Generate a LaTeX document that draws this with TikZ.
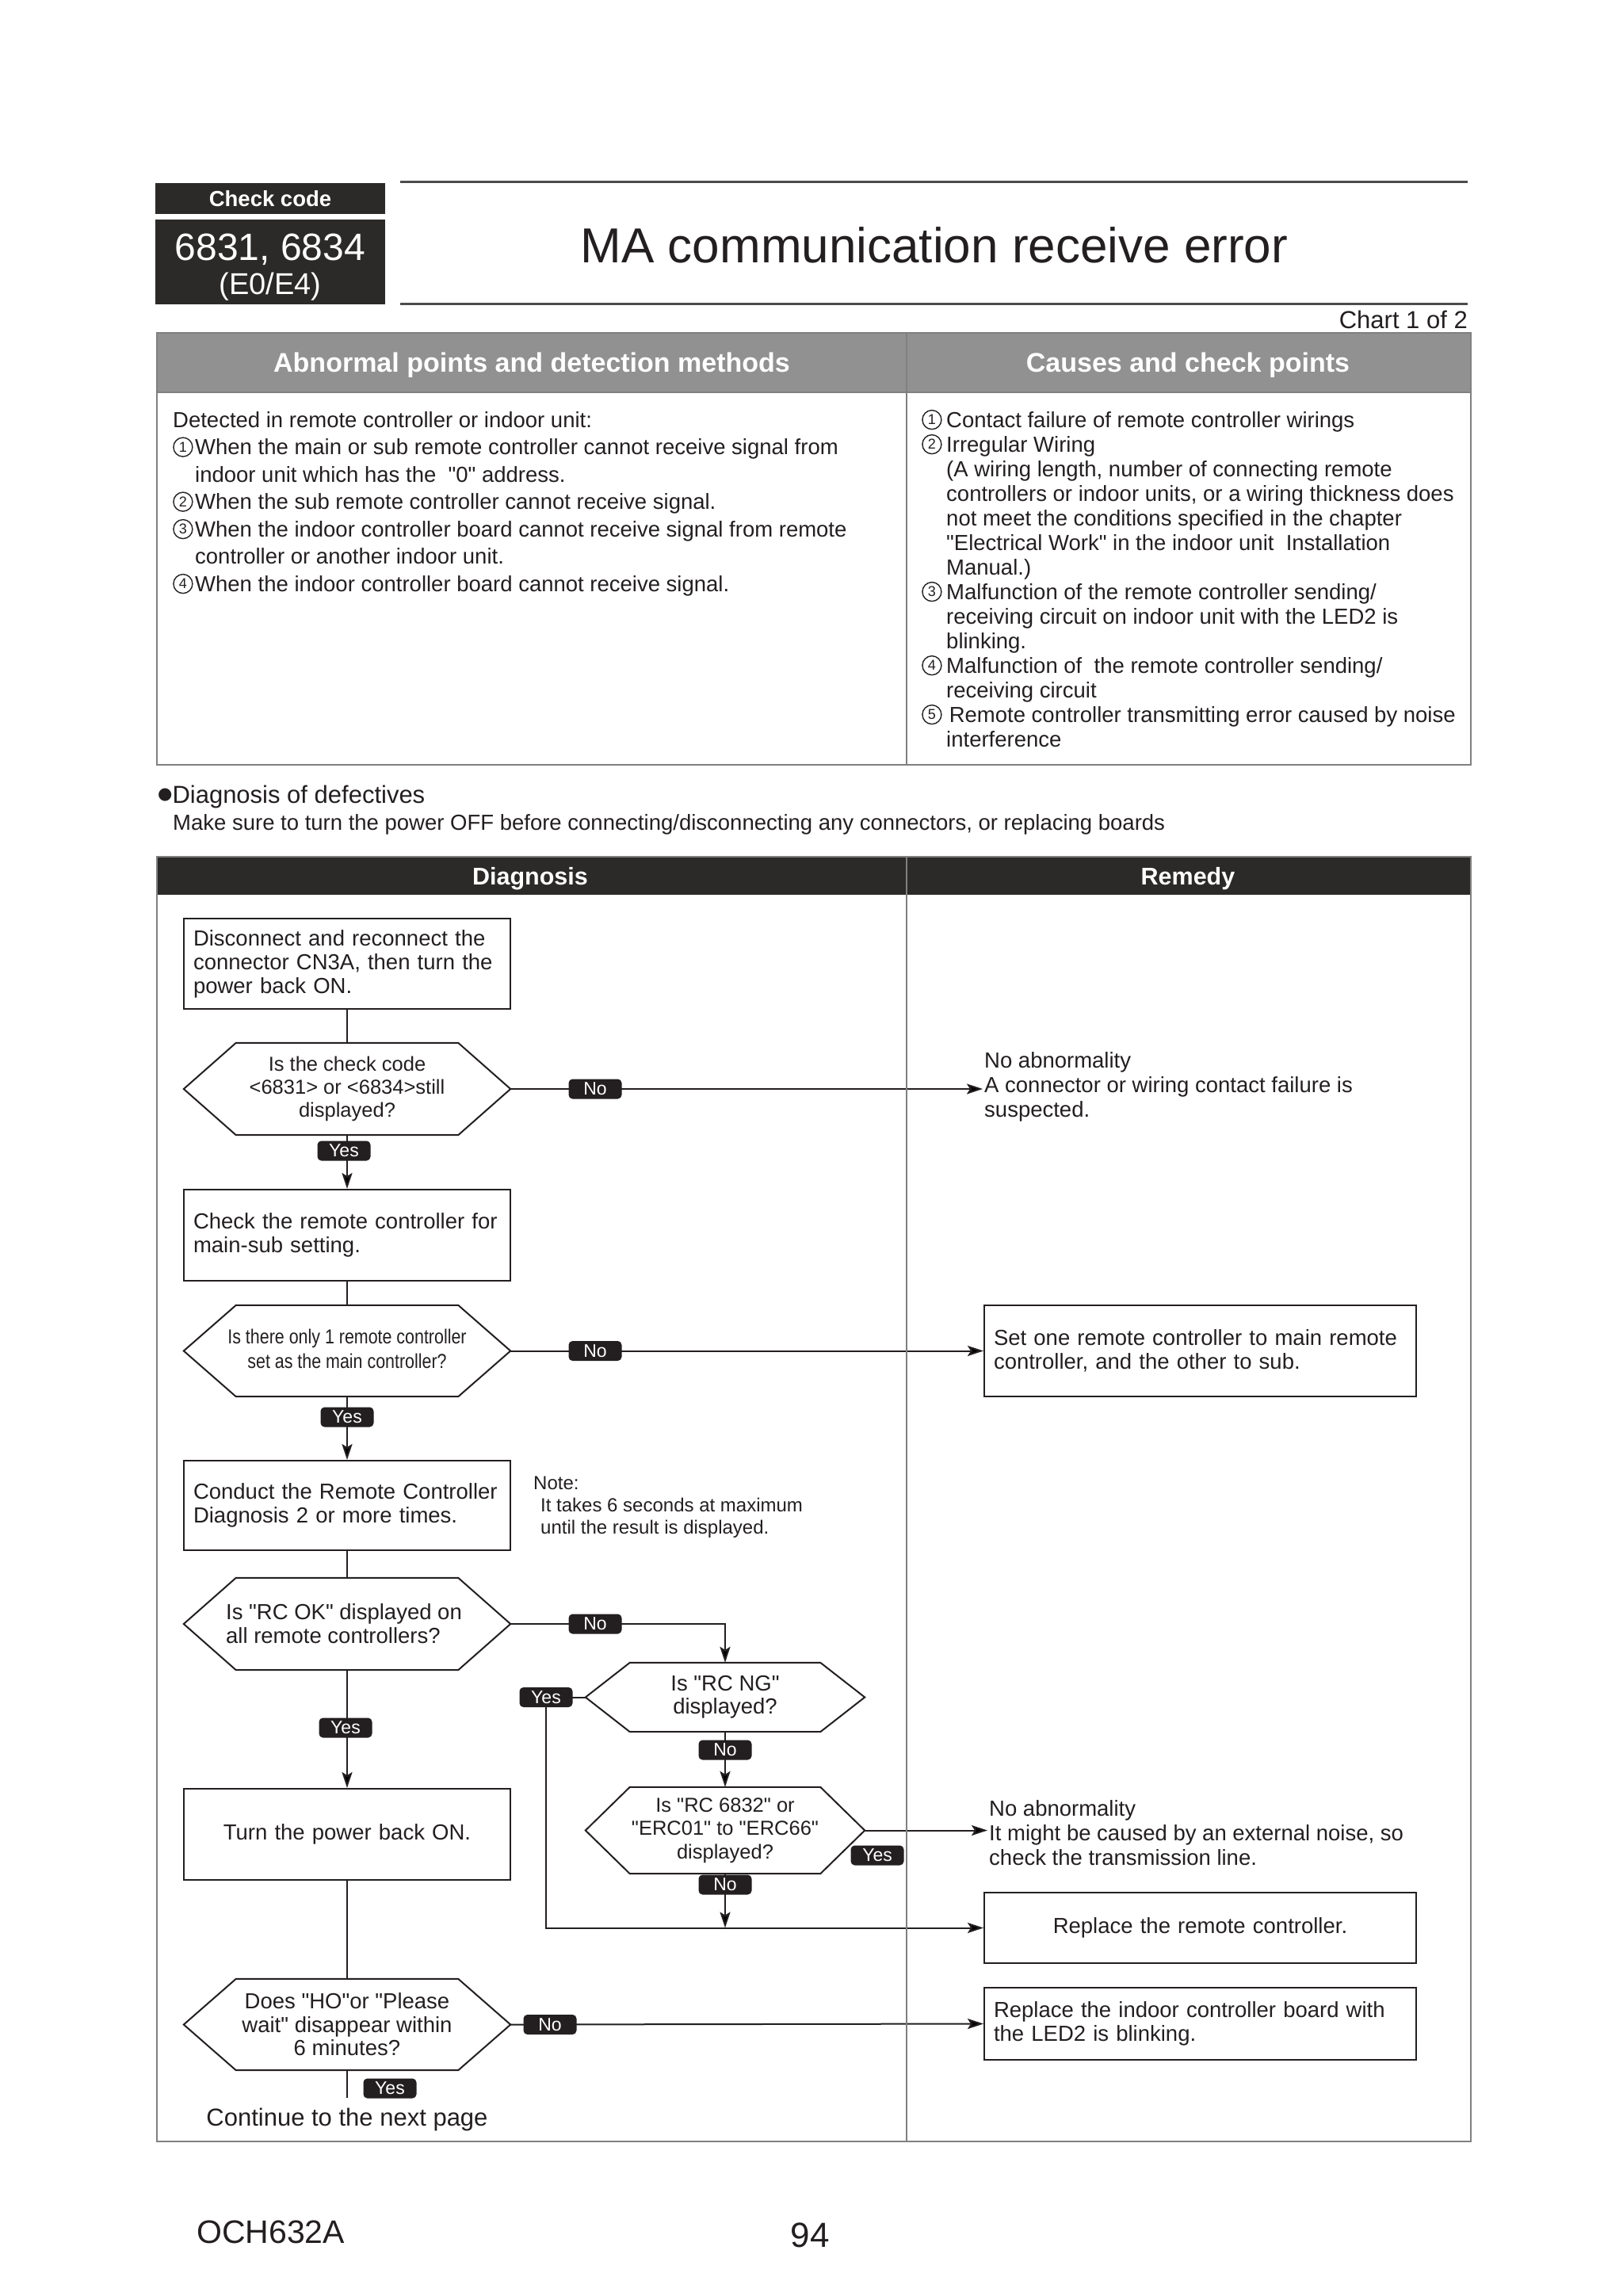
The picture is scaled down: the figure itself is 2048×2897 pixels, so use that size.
\documentclass[tikz,border=0pt]{standalone}
\usepackage{fontspec}
\usepackage{graphicx}
\setmainfont{Liberation Sans}[Ligatures=TeXOff]
\newfontfamily\dejavu{DejaVu Sans}
\usetikzlibrary{arrows.meta,calc}
\definecolor{ink}{HTML}{231F20}
\definecolor{hdrgray}{HTML}{919191}
\definecolor{hdrdark}{HTML}{2B2A29}
\definecolor{tblc}{HTML}{808080}
\newcommand\fsz[2]{\fontsize{#1}{#2}\selectfont}
\newcommand\cnum[2]{\makebox[#1][l]{\smash{\raisebox{9.5pt}{\tikz[x=1pt,y=1pt,baseline=(cn.center)]\node[circle, draw=ink, line width=1.4pt, inner sep=0pt, minimum size=24pt, font=\fsz{18}{18}, text=ink] (cn) at (0,0) {#2};}}}}
\newcommand\hexdraw[2]{\draw[hexline] (#1.west) -- ([xshift=#2]#1.north west) -- ([xshift=-#2]#1.north east) -- (#1.east) -- ([xshift=-#2]#1.south east) -- ([xshift=#2]#1.south west) -- cycle;}
\pgfdeclarelayer{back}
\pgfdeclarelayer{bg}
\pgfsetlayers{back,bg,main}
\tikzset{
  txt/.style={inner sep=0pt, text=ink},
  box/.style={draw=ink, line width=2pt, rectangle, inner xsep=12pt, inner ysep=0pt, text=ink, font=\fsz{27.5}{30}, align=left},
  hexn/.style={inner sep=0pt, text=ink, align=center, minimum width=412pt},
  hexline/.style={draw=ink, line width=2pt, line join=miter},
  flow/.style={draw=ink, line width=2pt},
  arr/.style={flow, -{Stealth[length=20pt,width=13pt,inset=4pt]}},
  lbl/.style={fill=ink, text=white, rounded corners=5pt, minimum width=67pt, minimum height=25pt, inner sep=0pt, font=\fsz{23}{25}},
  blk/.style={fill=hdrdark, inner sep=0pt},
  tline/.style={draw=tblc, line width=2.5pt},
}
\begin{document}
\begin{tikzpicture}[x=1pt,y=-1pt]
\begin{pgfonlayer}{back}
\fill[white] (0,0) rectangle (2048,2897);
\end{pgfonlayer}
\useasboundingbox (0,0) rectangle (2048,2897);

% ---------- header ----------
\node[blk, minimum width=290pt, minimum height=39pt] (cc) at (341,250.5) {};
\node[txt, text=white, font=\bfseries\fsz{27.5}{30}, anchor=base] (cct) at (341,260) {Check code};
\node[blk, minimum width=290pt, minimum height=107pt] (code) at (341,330.5) {};
\node[txt, text=white, font=\fsz{48}{50}, anchor=base] (codea) at (341,328) {6831, 6834};
\node[txt, text=white, font=\fsz{38}{40}, anchor=base] (codeb) at (341,371) {(E0/E4)};
\draw[line width=3pt, draw=black!70] (505,229) -- (1852,229);
\draw[line width=3pt, draw=black!70] (505,383) -- (1852,383);
\node[txt, font=\fsz{62}{68}, anchor=base] (title) at (1179,331) {MA communication receive error};
\node[txt, font=\fsz{31}{34}, anchor=base east] (chart) at (1852,414) {Chart 1 of 2};

% ---------- table 1 ----------
\fill[hdrgray] (198,420) rectangle (1856,495);
\draw[tline] (198,495) -- (1856,495);
\draw[tline] (1144,420) -- (1144,965);
\draw[tline] (198,420) rectangle (1856,965);
\node[txt, text=white, font=\bfseries\fsz{34}{36}, anchor=base] (th1) at (671,469) {Abnormal points and detection methods};
\node[txt, text=white, font=\bfseries\fsz{34}{36}, anchor=base] (th2) at (1499,469) {Causes and check points};

\node[txt, anchor=north west, align=left, font=\fsz{27.5}{34.5}] (abn) at (218,519) {Detected in remote controller or indoor unit:\\
\cnum{28pt}{1}When the main or sub remote controller cannot receive signal from\\
\hspace*{28pt}indoor unit which has the\ \ "0" address.\\
\cnum{28pt}{2}When the sub remote controller cannot receive signal.\\
\cnum{28pt}{3}When the indoor controller board cannot receive signal from remote\\
\hspace*{28pt}controller or another indoor unit.\\
\cnum{28pt}{4}When the indoor controller board cannot receive signal.};

\node[txt, anchor=north west, align=left, font=\fsz{27.5}{31}] (cau) at (1163,519) {\cnum{31pt}{1}Contact failure of remote controller wirings\\
\cnum{31pt}{2}Irregular Wiring\\
\hspace*{31pt}(A wiring length, number of connecting remote\\
\hspace*{31pt}controllers or indoor units, or a wiring thickness does\\
\hspace*{31pt}not meet the conditions specified in the chapter\\
\hspace*{31pt}"Electrical Work" in the indoor unit\ \ Installation\\
\hspace*{31pt}Manual.)\\
\cnum{31pt}{3}Malfunction of the remote controller sending/\\
\hspace*{31pt}receiving circuit on indoor unit with the LED2 is\\
\hspace*{31pt}blinking.\\
\cnum{31pt}{4}Malfunction of\ \ the remote controller sending/\\
\hspace*{31pt}receiving circuit\\
\cnum{27pt}{5} Remote controller transmitting error caused by noise\\
\hspace*{31pt}interference};

% ---------- diagnosis heading ----------
\node[txt, anchor=base west, font=\fsz{31}{34}] (diag) at (199,1013) {\raisebox{5pt}{\dejavu\fsz{21}{21}●}Diagnosis of defectives};
\node[txt, anchor=base west, font=\fsz{27.5}{30}] (warn) at (218,1047) {Make sure to turn the power OFF before connecting/disconnecting any connectors, or replacing boards};

% ---------- table 2 ----------
\fill[hdrdark] (198,1081) rectangle (1856,1129);
\draw[tline] (1144,1081) -- (1144,2702);
\draw[tline] (198,1081) rectangle (1856,2702);
\node[txt, text=white, font=\bfseries\fsz{30.5}{33}, anchor=base] (dh) at (669,1116) {Diagnosis};
\node[txt, text=white, font=\bfseries\fsz{30.5}{33}, anchor=base] (rh) at (1499,1116) {Remedy};

% ---------- flowchart nodes ----------
\node[box, text width=388pt, minimum height=114pt] (b1) at (438,1216) {Disconnect and reconnect the\\connector CN3A, then turn the\\power back ON.};
\node[hexn, minimum height=116pt, font=\fsz{25.5}{28.7}] (h1) at (438,1374) {Is the check code\\<6831> or <6834>still\\displayed?};
\hexdraw{h1}{66pt}
\node[box, text width=388pt, minimum height=115pt] (b3) at (438,1558.5) {Check the remote controller for\\main-sub setting.};
\node[hexn, minimum height=115pt] (h2) at (438,1704.5) {\scalebox{0.84}[1]{\fsz{25.5}{31}\begin{tabular}{@{}c@{}}Is there only 1 remote controller\\set as the main controller?\end{tabular}}};
\hexdraw{h2}{66pt}
\node[box, text width=388pt, minimum height=113pt] (b5) at (438,1899.5) {Conduct the Remote Controller\\Diagnosis 2 or more times.};
\node[txt, anchor=north west, align=left, font=\fsz{24}{28}] (note) at (673,1863) {Note:\\\hspace*{9pt}It takes 6 seconds at maximum\\\hspace*{9pt}until the result is displayed.};
\node[hexn, minimum height=116pt, align=left, font=\fsz{27.5}{30}] (h3) at (434,2049) {Is "RC OK" displayed on\\all remote controllers?};
\draw[hexline] (h2.west |- h3.west) -- ([xshift=66pt]h2.west |- h3.north) -- ([xshift=-66pt]h2.east |- h3.north) -- (h2.east |- h3.east) -- ([xshift=-66pt]h2.east |- h3.south) -- ([xshift=66pt]h2.west |- h3.south) -- cycle;
\node[hexn, minimum width=352pt, minimum height=87pt, font=\fsz{27.5}{29}] (h4) at (915,2141.5) {Is "RC NG"\\displayed?};
\hexdraw{h4}{56pt}
\node[hexn, minimum width=352pt, minimum height=109pt, font=\fsz{25.5}{29.5}] (h5) at (915,2309.5) {Is "RC 6832" or\\"ERC01" to "ERC66"\\displayed?};
\hexdraw{h5}{56pt}
\node[box, text width=388pt, minimum height=115pt, align=center] (b6) at (438,2314.5) {Turn the power back ON.};
\node[hexn, minimum height=115pt, font=\fsz{27.5}{29.5}] (h6) at (438,2554.5) {Does "HO"or "Please\\wait" disappear within\\6 minutes?};
\hexdraw{h6}{66pt}
\coordinate (yend) at (438,2647);
\node[txt, anchor=base, font=\fsz{31}{34}] (cont) at (438,2682) {Continue to the next page};

% remedy column
\node[txt, anchor=west, align=left, inner xsep=2pt, font=\fsz{27.5}{31}] (r1) at (1240,1371) {No abnormality\\A connector or wiring contact failure is\\suspected.};
\node[box, text width=521pt, minimum height=115pt] (rs) at (1514.5,1704.5) {Set one remote controller to main remote\\controller, and the other to sub.};
\node[txt, anchor=west, align=left, inner xsep=2pt, font=\fsz{27.5}{31}] (r2) at (1246,2313) {No abnormality\\It might be caused by an external noise, so\\check the transmission line.};
\node[box, text width=521pt, minimum height=89pt, align=center] (rp) at (1514.5,2432.5) {Replace the remote controller.};
\node[box, text width=521pt, minimum height=91pt] (rb) at (1514.5,2553.5) {Replace the indoor controller board with\\the LED2 is blinking.};

% labels
\node[lbl] (y1) at (434,1452) {Yes};
\node[lbl] (n1) at (751,1374) {No};
\node[lbl] (n2) at (751,1704.5) {No};
\node[lbl] (y2) at (438,1788) {Yes};
\node[lbl] (n3) at (751,2049) {No};
\node[lbl] (y3) at (436,2180) {Yes};
\node[lbl] (y4) at (689,2141.5) {Yes};
\node[lbl] (n4) at (915,2208) {No};
\node[lbl] (y5) at (1107,2341) {Yes};
\node[lbl] (n5) at (915,2378) {No};
\node[lbl] (n6) at (694,2554.5) {No};
\node[lbl] (y6) at (492,2635) {Yes};

% connectors
\begin{pgfonlayer}{bg}
\draw[flow] (b1.south) -- (h1.north);
\draw[arr] (h1.south) -- (b3.north);
\draw[arr] (h1.east) -- (h1.east -| r1.west);
\draw[flow] (b3.south) -- (h2.north);
\draw[arr] (h2.east) -- (rs.west);
\draw[arr] (h2.south) -- (b5.north);
\draw[flow] (b5.south) -- (b5.south |- h3.north);
\draw[arr] (h2.east |- h3.east) -| (h4.north);
\draw[arr] (b6.north |- h3.south) -- (b6.north);
\draw[arr] (h4.west) -- (y4.center) |- (rp.west);
\draw[arr] (h4.south) -- (h5.north);
\draw[arr] (h5.east) -- (h5.east -| r2.west);
\draw[arr] (h5.south) -- (h5.south |- rp.west);
\draw[flow] (b6.south) -- (h6.north);
\draw[arr] (h6.east) -- (rb.west);
\draw[flow] (h6.south) -- (yend);
\end{pgfonlayer}

% footer
\node[txt, anchor=base west, font=\fsz{41}{44}] (doc) at (248,2830) {OCH632A};
\node[txt, anchor=base, font=\fsz{44}{46}] (page) at (1022,2835) {94};
\end{tikzpicture}
\end{document}
